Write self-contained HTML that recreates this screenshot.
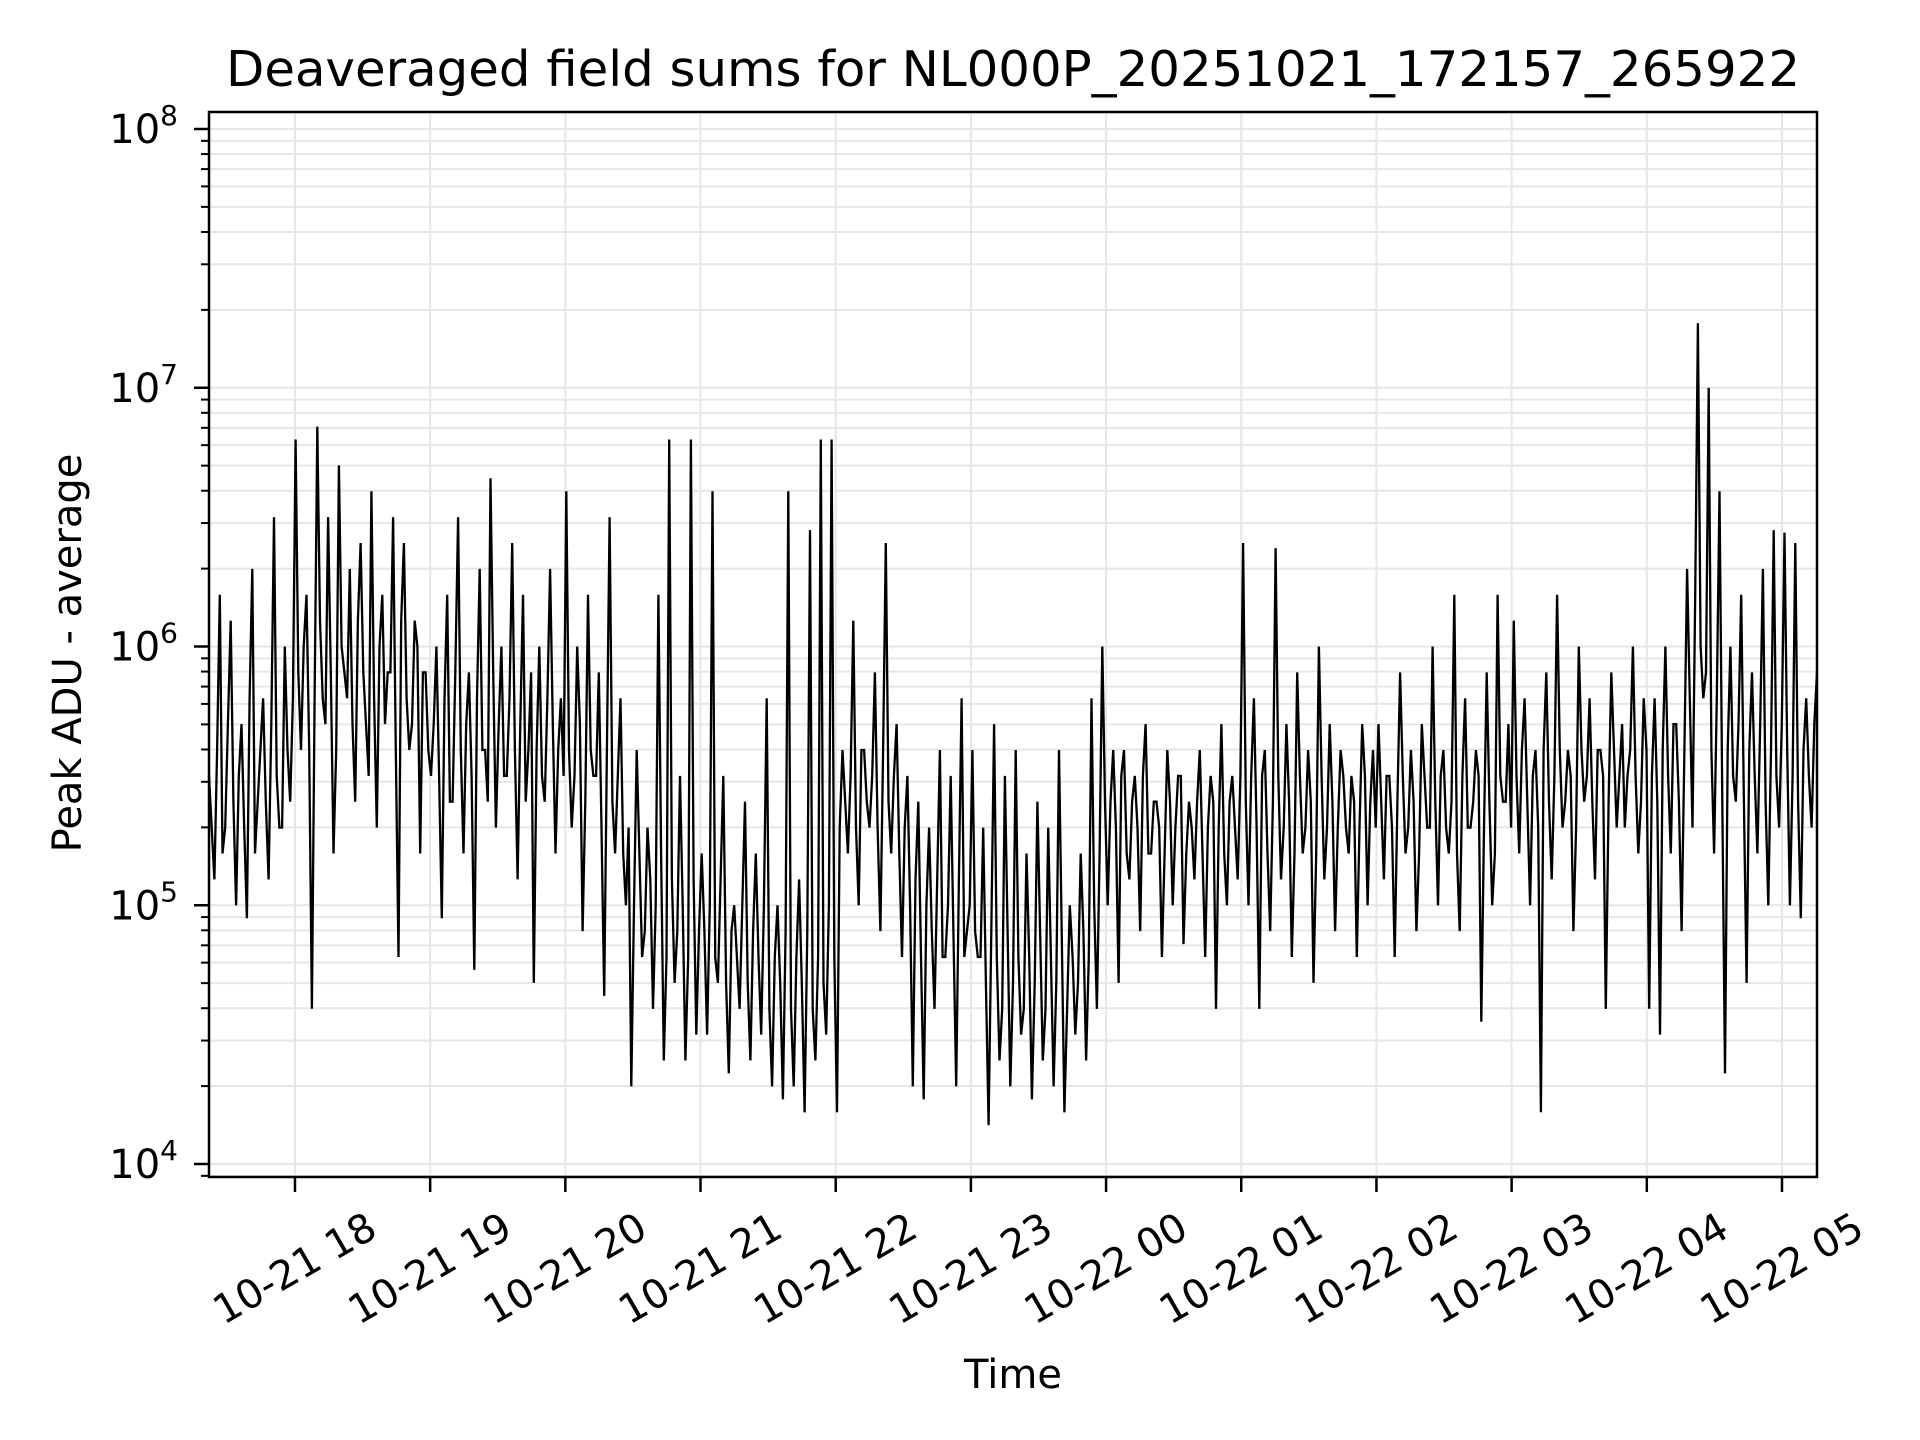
<!DOCTYPE html>
<html><head><meta charset="utf-8"><style>
html,body{margin:0;padding:0;background:#fff;}
svg{display:block;font-family:"DejaVu Sans","Liberation Sans",sans-serif;}
</style></head><body>
<svg id="chart" width="1920" height="1440" viewBox="0 0 1920 1440" xmlns="http://www.w3.org/2000/svg">
<rect width="1920" height="1440" fill="#fff"/>
<text x="1013" y="86" font-size="49" text-anchor="middle" textLength="1574" lengthAdjust="spacingAndGlyphs">Deaveraged field sums for NL000P_20251021_172157_265922</text>
<g id="grid"></g>
<g id="series"></g>
<rect x="209" y="112" width="1608" height="1065" fill="none" stroke="#000" stroke-width="2.5"/>
<g id="axes"></g>
<text x="1013" y="1388" font-size="40" text-anchor="middle">Time</text>
<text transform="translate(81,653) rotate(-90)" font-size="40" text-anchor="middle">Peak ADU - average</text>
</svg>
<script>
// ---- data ----
const startHour = 17.364;
const endHour = 29.259;
const xTickHours = [18,19,20,21,22,23,24,25,26,27,28,29];
const xTickLabels = ["10-21 18","10-21 19","10-21 20","10-21 21","10-21 22","10-21 23","10-22 00","10-22 01","10-22 02","10-22 03","10-22 04","10-22 05"];
const yTickExps = [4,5,6,7,8];
// log10(Peak ADU - average): extreme samples
const peakLog10 = [
5.5,5.1,6.2,5.3,6.1,5.0,5.7,4.95,6.3,5.4,5.8,5.1,6.5,5.3,6.0,5.4,
6.8,5.6,6.2,4.6,6.85,5.8,6.5,5.2,6.7,5.9,6.3,5.4,6.4,5.7,6.6,5.3,6.2,5.9,6.5,4.8,6.4,5.6,6.1,5.2,5.9,
5.5,6.0,4.95,6.2,5.4,6.5,5.2,5.9,4.75,6.3,5.6,6.65,5.3,6.0,5.5,6.4,5.1,6.2,5.6,4.7,6.0,5.4,6.3,5.2,5.8,
6.6,5.3,6.0,4.9,6.2,5.5,5.9,4.65,6.5,5.2,5.8,5.0,4.3,5.6,4.8,5.3,4.6,6.2,4.4,6.8,4.7,5.5,4.4,6.8,4.5,
5.2,4.5,6.6,4.7,5.5,4.35,5.0,4.6,5.4,4.4,5.2,4.5,5.8,4.3,5.0,4.25,6.6,4.3,5.1,4.2,6.45,4.4,6.8,4.5,6.8,
4.2,5.6,5.2,6.1,5.0,5.6,5.3,5.9,4.9,6.4,5.2,5.7,4.8,5.5,4.3,5.4,4.25,5.3,4.6,5.6,4.8,5.5,4.3,5.8,4.9,
5.6,4.8,5.3,4.15,5.7,4.4,5.5,4.3,5.6,4.5,5.2,4.25,5.4,4.4,5.3,4.3,5.6,4.2,5.0,4.5,5.2,4.4,5.8,4.6,6.0,
5.0,5.6,4.7,5.6,5.1,5.5,4.9,5.7,5.2,5.4,4.8,5.6,5.0,5.5,4.85,5.4,5.1,5.6,4.8,5.5,4.6,5.7,5.0,5.5,5.1,
6.4,5.0,5.8,4.6,5.6,4.9,6.38,5.1,5.7,4.8,5.9,5.2,5.6,4.7,6.0,5.1,5.7,4.9,5.6,5.3,5.5,4.8,5.7,5.0,5.6,
5.7,5.1,5.5,4.8,5.9,5.2,5.6,4.9,5.7,5.3,6.0,5.0,5.6,5.2,6.2,4.9,5.8,5.3,5.6,4.55,5.9,5.0,6.2,5.4,5.7,
6.1,5.2,5.8,5.0,5.6,4.2,5.9,5.1,6.2,5.3,5.6,4.9,6.0,5.4,5.8,5.1,5.6,4.6,5.9,5.3,5.7,5.5,6.0,5.2,5.8,
4.6,5.8,4.5,6.0,5.2,5.7,4.9,6.3,5.3,7.25,5.8,7.0,5.2,6.6,4.35,6.0,5.4,6.2,4.7,5.9,5.2,6.3,5.0,6.45,5.3,
6.44,5.0,6.4,4.95,5.8,5.3,5.9
];
// log10(Peak ADU - average): samples taken between the extreme samples above
const peakLog10Mid = [
5.3,5.6,5.2,5.7,5.4,5.5,5.3,5.8,5.2,5.6,5.4,5.7,5.5,5.3,5.6,5.8,
5.9,6.0,5.6,5.8,6.1,5.7,5.9,5.6,6.0,5.8,5.7,6.1,5.9,5.5,5.8,6.0,5.7,5.9,5.6,6.1,5.8,5.7,6.0,5.9,5.6,
5.7,5.5,5.8,5.4,5.9,5.6,5.7,5.5,5.8,5.6,5.4,5.9,5.7,5.5,5.8,5.6,5.7,5.4,5.9,5.6,5.5,5.8,5.7,5.6,5.5,
5.6,5.5,5.7,5.4,5.6,5.5,5.3,5.6,5.4,5.5,5.2,5.3,5.0,5.2,4.9,5.1,5.0,5.2,4.8,5.1,4.9,5.0,4.8,5.1,4.9,
4.9,5.0,4.8,5.1,4.7,4.9,4.8,5.0,4.7,4.9,4.8,5.0,4.6,4.8,4.7,4.9,4.6,4.8,4.7,4.9,4.6,4.8,4.7,5.0,4.8,
5.3,5.4,5.5,5.3,5.6,5.4,5.5,5.3,5.6,5.4,5.5,5.2,5.3,5.0,5.1,4.8,5.0,4.9,5.1,4.8,5.0,4.9,5.1,4.8,5.0,
4.9,4.8,4.7,4.9,4.8,4.6,4.9,4.7,4.8,4.6,4.8,4.7,4.9,4.6,4.8,4.7,4.9,4.6,4.8,4.7,4.9,4.8,5.0,5.2,5.4,
5.4,5.3,5.5,5.2,5.4,5.3,5.5,5.2,5.4,5.3,5.2,5.4,5.3,5.5,5.2,5.3,5.4,5.2,5.3,5.4,5.3,5.2,5.4,5.3,5.5,
5.4,5.5,5.3,5.5,5.2,5.4,5.5,5.3,5.4,5.2,5.5,5.3,5.4,5.2,5.5,5.3,5.4,5.3,5.5,5.2,5.4,5.3,5.5,5.4,5.3,
5.4,5.5,5.3,5.4,5.5,5.3,5.4,5.2,5.5,5.3,5.4,5.5,5.3,5.4,5.2,5.5,5.3,5.4,5.5,5.3,5.4,5.2,5.5,5.4,5.3,
5.5,5.6,5.4,5.5,5.3,5.6,5.4,5.5,5.6,5.4,5.5,5.3,5.6,5.5,5.4,5.6,5.5,5.4,5.6,5.5,5.3,5.6,5.5,5.4,5.6,
5.5,5.4,5.6,5.5,5.7,5.4,5.6,5.8,6.2,6.0,5.9,5.6,5.8,5.4,5.6,5.5,5.7,5.4,5.6,5.5,5.7,5.4,5.6,5.5,5.7,
5.6,5.5,5.4,5.6,5.5,5.7
];
// ---- scales ----
const L=209,R=1817,T=112,B=1177;
function xScale(h){return L+(h-startHour)/(endHour-startHour)*(R-L);}
function yScale(v){const e=Math.log10(v);return 1164-(e-4)*(1164-129)/4;}
const NS="http://www.w3.org/2000/svg";
function mk(tag,attrs,parent){const el=document.createElementNS(NS,tag);for(const k in attrs)el.setAttribute(k,attrs[k]);parent.appendChild(el);return el;}
const grid=document.getElementById('grid'),axes=document.getElementById('axes'),series=document.getElementById('series');
for(let e=3;e<=8;e++){for(let m=1;m<=9;m++){const v=m*Math.pow(10,e);const y=yScale(v);if(y<T||y>B)continue;
 const g=mk('line',{x1:L,x2:R,y1:y,y2:y,stroke:'#e6e6e6','stroke-width':2},grid);
 
 
 const t=mk('line',{x1:L,x2:L-(m===1?15:8),y1:y,y2:y,stroke:'#000','stroke-width':m===1?2.5:2},axes);
 
 
}}
yTickExps.forEach(e=>{const y=yScale(Math.pow(10,e));
 const tx=mk('text',{x:178,y:y+14,'font-size':40,'text-anchor':'end'},axes);
 
 
 tx.innerHTML='10<tspan font-size="28" dy="-18">'+e+'</tspan>';
});
xTickHours.forEach((h,i)=>{const x=xScale(h);
 const g=mk('line',{x1:x,x2:x,y1:T,y2:B,stroke:'#e6e6e6','stroke-width':2},grid);
 
 
 const t=mk('line',{x1:x,x2:x,y1:B,y2:B+15,stroke:'#000','stroke-width':2.5},axes);
 
 
 const tx=mk('text',{transform:'translate('+x+',1269) rotate(-30)','font-size':40,'text-anchor':'middle','dominant-baseline':'central'},axes);
 
 
 tx.textContent=xTickLabels[i];
});
const merged=[];
peakLog10.forEach((v,i)=>{merged.push(v);if(i<peakLog10Mid.length&&i<peakLog10.length-1)merged.push(peakLog10Mid[i]);});
const n=merged.length;
const pts=merged.map((v,i)=>{const h=startHour+i*(endHour-startHour)/(n-1);return xScale(h).toFixed(1)+','+yScale(Math.pow(10,v)).toFixed(1);}).join(' ');
const pl=mk('polyline',{points:pts,fill:'none',stroke:'#000','stroke-width':2.3,'stroke-linejoin':'miter'},series);


</script>
</body></html>
